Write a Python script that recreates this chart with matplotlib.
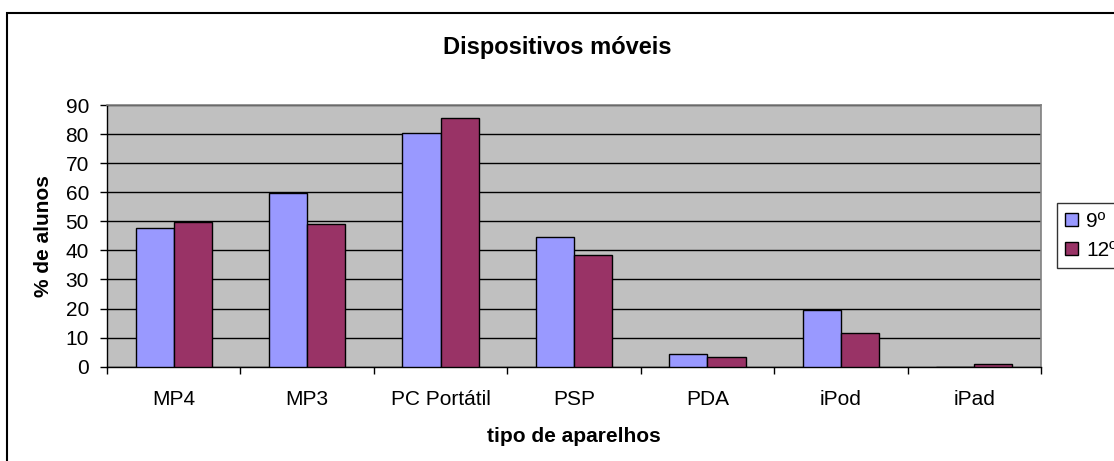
import numpy as np
import matplotlib.pyplot as plt
from matplotlib.patches import Rectangle

plt.rcParams['font.family'] = ['Liberation Sans', 'DejaVu Sans']

# Data
categories = ["MP4", "MP3", "PC Portátil", "PSP", "PDA", "iPod", "iPad"]
grade_9 = [47.6, 59.7, 80.5, 44.7, 4.4, 19.4, 0.0]
grade_12 = [49.9, 49.0, 85.4, 38.4, 3.4, 11.5, 0.8]
series_labels = ["9º", "12º"]

color_9 = "#9999ff"
color_12 = "#993366"
plot_bg = "#c0c0c0"

fig = plt.figure(figsize=(11.14, 4.61), dpi=100)
ax = fig.add_axes([0.0960, 0.2046, 0.8385, 0.5676])

x = np.arange(len(categories))
bw = 2.0 / 7.0
ax.bar(x - bw / 2, grade_9, width=bw, color=color_9, edgecolor="black",
       linewidth=1.0, label=series_labels[0], zorder=3)
ax.bar(x + bw / 2, grade_12, width=bw, color=color_12, edgecolor="black",
       linewidth=1.0, label=series_labels[1], zorder=3)

ax.set_facecolor(plot_bg)
ax.set_xlim(-0.5, len(categories) - 0.5)
ax.set_ylim(0, 90)
ax.set_yticks(np.arange(0, 91, 10))
ax.yaxis.grid(True, color="black", linewidth=1.0, zorder=1)
ax.set_axisbelow(True)

# category boundary ticks, labels centred
ax.set_xticks(np.arange(-0.5, len(categories)), minor=False)
ax.set_xticklabels([])
ax.set_xticks(x, minor=True)
ax.set_xticklabels(categories, minor=True, fontsize=15)
ax.tick_params(axis="x", which="minor", length=0, pad=17)
ax.tick_params(axis="x", which="major", length=5, width=1, direction="out")
ax.tick_params(axis="y", length=5, width=1, direction="out", labelsize=15, pad=8)

for side in ["top", "right"]:
    ax.spines[side].set_color("#808080")
    ax.spines[side].set_linewidth(1.2)
for side in ["left", "bottom"]:
    ax.spines[side].set_color("black")
    ax.spines[side].set_linewidth(1.0)

ax.set_xlabel("tipo de aparelhos", fontsize=15, fontweight="bold", labelpad=13)
ax.set_ylabel("% de alunos", fontsize=15, fontweight="bold", labelpad=9)
fig.text(0.5, 0.896, "Dispositivos móveis", ha="center", va="center",
         fontsize=17, fontweight="bold")

leg = ax.legend(loc="center left", bbox_to_anchor=(1.017, 0.5), fontsize=15,
                frameon=True, fancybox=False, edgecolor="black",
                handlelength=0.6, handleheight=0.6, handletextpad=0.4,
                borderpad=0.4, labelspacing=0.5, borderaxespad=0)
leg.get_frame().set_linewidth(1.0)

# outer chart border (cut off on right and bottom in the reference)
fig.patches.append(Rectangle((7 / 1114, -0.05), 1.2, 1 - 13 / 461 + 0.05,
                             transform=fig.transFigure, fill=False,
                             edgecolor="black", linewidth=1.5))

fig.savefig("out.png", dpi=100)
